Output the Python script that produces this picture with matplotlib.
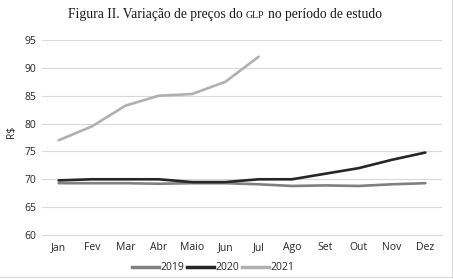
import matplotlib
matplotlib.use("Agg")
import matplotlib.pyplot as plt
from matplotlib.lines import Line2D

months = ["Jan", "Fev", "Mar", "Abr", "Maio", "Jun", "Jul", "Ago", "Set", "Out", "Nov", "Dez"]
v2019 = [69.3, 69.3, 69.3, 69.2, 69.3, 69.3, 69.1, 68.8, 68.9, 68.8, 69.1, 69.3]
v2020 = [69.8, 70.0, 70.0, 70.0, 69.5, 69.5, 70.0, 70.0, 71.0, 72.0, 73.5, 74.8]
v2021 = [77.0, 79.5, 83.2, 85.0, 85.3, 87.5, 92.0]
series_labels = ["2019", "2020", "2021"]
colors = ["#808080", "#262626", "#b0b0b0"]
yticks = [60, 65, 70, 75, 80, 85, 90, 95]

W, H = 453, 279
fig = plt.figure(figsize=(W / 100, H / 100), dpi=100)
fig.patch.set_facecolor("white")

ax = fig.add_axes([42 / W, 1 - 235 / H, (442 - 42) / W, (235 - 40) / H])
x = list(range(len(months)))
for vals, c, lab in zip([v2019, v2020, v2021], colors, series_labels):
    ax.plot(x[:len(vals)], vals, color=c, lw=1.9, label=lab, solid_capstyle="round")

ax.set_xlim(-0.5, 11.5)
ax.set_ylim(60, 95)
ax.set_yticks(yticks)
ax.set_xticks(x)
ax.set_xticklabels(months)
ax.grid(axis="y", color="#d9d9d9", lw=0.8)
ax.set_axisbelow(True)
for s in ["top", "right", "left"]:
    ax.spines[s].set_visible(False)
ax.spines["bottom"].set_color("#d9d9d9")
ax.spines["bottom"].set_linewidth(0.8)
ax.tick_params(length=0, labelsize=7.5, colors="#262626", pad=5)
ax.tick_params(axis="y", pad=4)
for t in ax.get_xticklabels() + ax.get_yticklabels():
    t.set_fontfamily("Open Sans")
ax.set_ylabel("R$", fontsize=7.5, color="#262626", fontfamily="Open Sans")
ax.yaxis.set_label_coords(-0.062, 0.53)

handles = [Line2D([0], [0], color=c, lw=2.5) for c in colors]
leg = fig.legend(handles, series_labels, loc="center", bbox_to_anchor=(213 / W, 1 - 268 / H),
                 ncol=3, frameon=False, handlelength=2.6, handletextpad=0.1,
                 columnspacing=0.3, prop={"family": "Open Sans", "size": 7.5})
for t in leg.get_texts():
    t.set_color("#262626")

# chart frame lines (right and bottom)
fig.add_artist(Line2D([451.5 / W, 451.5 / W], [1 - 0 / H, 1 - 277 / H], transform=fig.transFigure,
                      color="#d9d9d9", lw=0.8))
fig.add_artist(Line2D([0, 451.5 / W], [1 - 277 / H, 1 - 277 / H], transform=fig.transFigure,
                      color="#d9d9d9", lw=0.8))

# title with small caps "GLP"
fs = 9.8
parts = [("Figura II. Variação de preços do", fs), ("GLP", fs * 0.72), ("no período de estudo", fs)]
fig.canvas.draw()
r = fig.canvas.get_renderer()
texts = []
for s, size in parts:
    t = fig.text(0, 0, s, fontsize=size, fontfamily="Liberation Serif", color="#1a1a1a", va="baseline")
    texts.append(t)
widths = [t.get_window_extent(renderer=r).width for t in texts]
space = 3.2
total = sum(widths) + space * (len(widths) - 1)
cx = 225
xpos = cx - total / 2
for t, w in zip(texts, widths):
    t.set_position((xpos / W, 1 - 18 / H))
    xpos += w + space

fig.savefig("out.png", dpi=100, facecolor="white")
